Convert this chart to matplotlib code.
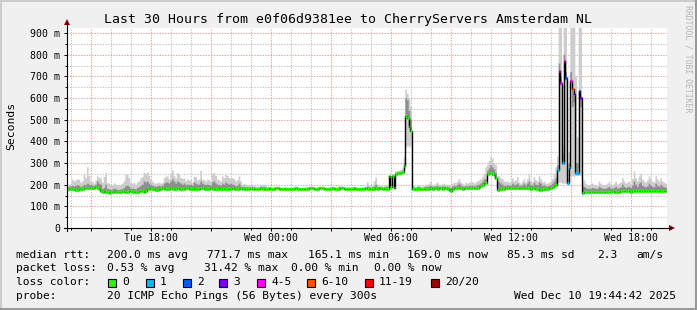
import numpy as np
import pandas as pd
import matplotlib
matplotlib.use('Agg')
import matplotlib.pyplot as plt
import matplotlib.dates as mdates
from matplotlib.ticker import MultipleLocator, FuncFormatter
from matplotlib.lines import Line2D
from matplotlib.patches import Polygon, Rectangle

plt.rcParams['font.family'] = 'DejaVu Sans Mono'

# 5 minute steps, one row per hour, starting Tue 13:48
start = '2025-12-09 13:48'

median_ms = [
    180, 180, 181, 180, 178, 176, 177, 180, 182, 181, 184, 185,
    185, 186, 184, 183, 186, 188, 184, 182, 170, 168, 169, 167,
    166, 164, 165, 168, 170, 168, 166, 165, 167, 169, 168, 166,
    168, 170, 171, 167, 165, 166, 168, 172, 170, 169, 167, 172,
    182, 183, 181, 182, 180, 176, 174, 180, 182, 183, 182, 181,
    182, 181, 183, 182, 180, 182, 184, 182, 181, 180, 182, 183,
    183, 182, 181, 182, 183, 180, 181, 182, 184, 183, 181, 182,
    181, 182, 183, 182, 181, 180, 182, 183, 182, 181, 180, 182,
    182, 180, 181, 183, 182, 180, 181, 182, 183, 181, 180, 182,
    181, 182, 183, 182, 180, 178, 181, 182, 183, 182, 181, 180,
    182, 183, 181, 180, 182, 183, 184, 182, 181, 180, 181, 182,
    180, 178, 180, 181, 182, 183, 182, 180, 178, 179, 180, 181,
    182, 183, 184, 183, 181, 180, 182, 183, 184, 183, 182, 181,
    180, 181, 182, 183, 182, 181, 180, 182, 183, 184, 182, 181,
    182, 181, 180, 182, 183, 182, 180, 178, 179, 181, 182, 183,
    182, 181, 180, 181, 182, 183, 182, 184, 183, 182, 180, 181,
    182, 238, 190, 238, 184, 250, 254, 254, 256, 258, 288, 518,
    510, 465, 448, 180, 179, 180, 178, 181, 180, 179, 178, 180,
    181, 182, 183, 182, 184, 183, 182, 183, 184, 182, 183, 184,
    182, 176, 172, 182, 183, 184, 183, 184, 183, 182, 184, 183,
    183, 184, 185, 184, 183, 184, 186, 188, 195, 200, 207, 207,
    248, 254, 252, 248, 246, 232, 176, 178, 179, 180, 182, 183,
    184, 183, 184, 185, 184, 183, 184, 185, 184, 183, 184, 185,
    184, 183, 182, 184, 183, 180, 178, 176, 177, 178, 180, 182,
    182, 183, 184, 190, 196, 200, 269, 725, 671, 300, 771, 694,
    207, 278, 679, 640, 617, 254, 254, 632, 601, 164, 166, 165,
    166, 165, 167, 166, 165, 168, 167, 166, 165, 166, 167, 168,
    167, 166, 168, 169, 168, 167, 166, 168, 169, 170, 171, 170,
    170, 169, 168, 170, 171, 172, 171, 170, 169, 170, 171, 170,
    171, 170, 169, 170, 172, 171, 170, 171, 170, 169, 170, 169,
]

# top of the smoke (slowest ping)
smoke_hi = [
    195, 200, 205, 223, 215, 220, 225, 222, 210, 215, 245, 230,
    281, 240, 214, 212, 205, 220, 238, 232, 230, 210, 235, 254,
    207, 205, 200, 198, 207, 200, 195, 198, 200, 205, 215, 245,
    245, 230, 207, 205, 207, 200, 210, 215, 230, 235, 257, 250,
    257, 240, 223, 215, 207, 205, 207, 210, 205, 207, 230, 238,
    238, 225, 250, 264, 240, 230, 254, 245, 230, 228, 230, 215,
    225, 218, 222, 210, 238, 235, 220, 225, 265, 223, 220, 215,
    223, 220, 215, 250, 254, 240, 223, 220, 215, 238, 230, 245,
    240, 230, 232, 230, 225, 215, 220, 238, 215, 200, 205, 200,
    198, 196, 196, 195, 196, 192, 190, 192, 200, 198, 200, 197,
    188, 189, 187, 186, 188, 189, 190, 188, 187, 186, 187, 188,
    186, 184, 186, 187, 188, 189, 188, 186, 184, 185, 186, 187,
    188, 189, 190, 189, 187, 186, 188, 189, 190, 189, 188, 187,
    186, 187, 188, 189, 188, 187, 186, 195, 189, 190, 188, 187,
    188, 187, 186, 188, 189, 188, 186, 184, 185, 187, 188, 190,
    212, 195, 192, 195, 215, 233, 200, 195, 192, 190, 193, 195,
    195, 245, 200, 250, 210, 262, 262, 265, 268, 275, 330, 640,
    620, 600, 560, 195, 192, 190, 200, 195, 192, 190, 195, 200,
    200, 205, 215, 200, 198, 205, 210, 200, 198, 202, 205, 200,
    200, 198, 195, 205, 210, 208, 215, 227, 210, 205, 200, 210,
    205, 210, 208, 212, 205, 210, 215, 220, 225, 235, 250, 280,
    292, 310, 331, 320, 300, 290, 238, 240, 230, 225, 215, 212,
    215, 210, 212, 230, 215, 220, 235, 210, 205, 215, 225, 210,
    225, 246, 215, 210, 233, 220, 215, 240, 225, 210, 215, 205,
    205, 210, 212, 225, 250, 280, 330, 1000, 1000, 380, 1000, 1000,
    300, 350, 1000, 1000, 1000, 700, 420, 1000, 1000, 215, 220, 205,
    195, 200, 198, 205, 200, 198, 195, 215, 205, 200, 198, 200,
    205, 212, 200, 198, 205, 215, 200, 205, 210, 230, 215, 205,
    210, 215, 205, 225, 261, 230, 215, 238, 250, 225, 215, 210,
    220, 238, 225, 215, 210, 238, 225, 215, 230, 215, 210, 205,
]

# bottom of the smoke (fastest ping)
smoke_lo = [
    176, 176, 177, 176, 174, 172, 173, 176, 178, 177, 180, 181,
    181, 182, 180, 179, 182, 184, 180, 178, 166, 164, 165, 163,
    162, 160, 161, 164, 166, 164, 162, 161, 163, 165, 164, 162,
    164, 166, 167, 163, 161, 162, 164, 168, 166, 165, 163, 168,
    178, 179, 177, 178, 176, 172, 170, 176, 178, 179, 178, 177,
    178, 177, 179, 178, 176, 178, 180, 178, 177, 176, 178, 179,
    179, 178, 177, 178, 179, 176, 177, 178, 180, 179, 177, 178,
    177, 178, 179, 178, 177, 176, 178, 179, 178, 177, 176, 178,
    178, 176, 177, 179, 178, 176, 177, 178, 179, 177, 176, 178,
    177, 178, 179, 178, 176, 174, 177, 178, 179, 178, 177, 176,
    178, 179, 177, 176, 178, 179, 180, 178, 177, 176, 177, 178,
    176, 174, 176, 177, 178, 179, 178, 176, 174, 175, 176, 177,
    178, 179, 180, 179, 177, 176, 178, 179, 180, 179, 178, 177,
    176, 177, 178, 179, 178, 177, 176, 178, 179, 180, 178, 177,
    178, 177, 176, 178, 179, 178, 176, 174, 175, 177, 178, 179,
    178, 177, 176, 177, 178, 179, 178, 180, 179, 178, 176, 177,
    178, 225, 180, 225, 180, 240, 245, 245, 248, 250, 270, 371,
    380, 372, 380, 176, 175, 176, 174, 177, 176, 175, 174, 176,
    177, 178, 179, 178, 180, 179, 178, 179, 180, 178, 179, 180,
    178, 172, 168, 178, 179, 180, 179, 180, 179, 178, 180, 179,
    179, 180, 181, 180, 179, 180, 182, 184, 190, 195, 202, 202,
    240, 246, 244, 240, 238, 222, 172, 174, 175, 176, 178, 179,
    180, 179, 180, 181, 180, 179, 180, 181, 180, 179, 180, 181,
    180, 179, 178, 180, 179, 176, 174, 172, 173, 174, 176, 178,
    178, 179, 180, 186, 190, 194, 205, 208, 210, 205, 205, 205,
    203, 240, 240, 240, 235, 240, 240, 240, 240, 160, 162, 161,
    162, 161, 163, 162, 161, 164, 163, 162, 161, 162, 163, 164,
    163, 162, 164, 165, 164, 163, 162, 164, 165, 166, 167, 166,
    166, 165, 164, 166, 167, 168, 167, 166, 165, 166, 167, 166,
    167, 166, 165, 166, 168, 167, 166, 167, 166, 165, 166, 165,
]

# edge of the dense (dark) part of the smoke
smoke_mid = [
    188, 190, 192, 195, 192, 195, 198, 195, 190, 192, 200, 198,
    205, 200, 198, 196, 195, 200, 215, 205, 200, 180, 185, 200,
    180, 178, 176, 178, 182, 180, 176, 175, 178, 180, 185, 195,
    195, 190, 182, 180, 180, 178, 185, 188, 195, 200, 215, 210,
    215, 205, 198, 195, 192, 190, 192, 195, 192, 195, 205, 210,
    210, 205, 215, 225, 215, 205, 215, 210, 205, 200, 205, 198,
    200, 198, 200, 195, 210, 205, 200, 200, 215, 205, 200, 198,
    200, 198, 196, 210, 215, 205, 200, 198, 196, 205, 200, 210,
    205, 200, 205, 200, 198, 192, 195, 205, 192, 188, 190, 188,
    188, 187, 186, 187, 188, 185, 185, 186, 188, 188, 189, 187,
    186, 187, 185, 184, 186, 187, 188, 186, 185, 184, 185, 186,
    184, 182, 184, 185, 186, 187, 186, 184, 182, 183, 184, 185,
    186, 187, 188, 187, 185, 184, 186, 187, 188, 187, 186, 185,
    184, 185, 186, 187, 186, 185, 184, 190, 187, 188, 186, 185,
    186, 185, 184, 186, 187, 186, 184, 182, 183, 185, 186, 188,
    190, 188, 186, 188, 192, 200, 190, 188, 186, 185, 188, 190,
    188, 240, 195, 242, 195, 255, 258, 258, 260, 265, 300, 600,
    590, 540, 500, 188, 186, 185, 190, 188, 186, 185, 188, 190,
    190, 192, 195, 190, 190, 192, 195, 190, 190, 191, 192, 190,
    190, 188, 185, 192, 195, 194, 198, 205, 196, 192, 190, 195,
    192, 195, 194, 196, 192, 195, 198, 200, 205, 212, 225, 225,
    262, 275, 290, 280, 270, 255, 210, 212, 205, 200, 195, 195,
    198, 195, 196, 205, 198, 200, 205, 195, 194, 198, 205, 196,
    205, 215, 198, 196, 210, 200, 198, 210, 205, 195, 198, 192,
    192, 195, 198, 205, 215, 230, 290, 760, 700, 340, 800, 720,
    230, 300, 720, 560, 580, 300, 300, 600, 560, 190, 190, 185,
    180, 182, 181, 185, 182, 181, 180, 190, 185, 182, 181, 182,
    185, 190, 182, 181, 185, 190, 182, 185, 188, 200, 190, 185,
    188, 190, 185, 195, 215, 200, 190, 205, 210, 195, 190, 188,
    192, 205, 195, 190, 188, 205, 195, 190, 200, 192, 188, 186,
]

# steps with lost pings (step index, pings lost out of 20)
loss_step = [294, 295, 296, 297, 298, 299, 300, 301, 302, 303, 304, 305, 306, 307, 308]
loss_count = [1, 4, 4, 1, 5, 2, 1, 1, 4, 6, 3, 1, 1, 2, 3]

loss_labels = ['0', '1', '2', '3', '4-5', '6-10', '11-19', '20/20']
loss_colors = ['#26ff00', '#00b8ff', '#0059ff', '#7e00ff',
               '#ff00ff', '#ff5500', '#ff0000', '#a10000']
loss_upper = [0, 1, 2, 3, 5, 10, 19, 20]

title = 'Last 30 Hours from e0f06d9381ee to CherryServers Amsterdam NL'
rtt_items = ['median rtt:', '200.0 ms avg', '771.7 ms max', '165.1 ms min',
             '169.0 ms now', '85.3 ms sd', '2.3', 'am/s']
loss_items = ['packet loss:', '0.53 % avg', '31.42 % max', '0.00 % min', '0.00 % now']
probe_items = ['probe:', '20 ICMP Echo Pings (56 Bytes) every 300s',
               'Wed Dec 10 19:44:42 2025']

W, H = 697, 310
LEG_FS = 8.1


def fpos(x, y):
    # pixel position (from top left) -> figure fraction
    return x / W, 1 - y / H


fig = plt.figure(figsize=(W / 100, H / 100), dpi=100, facecolor='#F0F0F0')
ax = fig.add_axes([67 / W, (H - 228) / H, 600 / W, 200 / H])
ax.set_facecolor('white')

times = pd.date_range(start, periods=len(median_ms) + 1, freq='5min')
edges = mdates.date2num(times.to_pydatetime())
med = np.array(median_ms + median_ms[-1:], dtype=float)
hi = np.array(smoke_hi + smoke_hi[-1:], dtype=float)
lo = np.array(smoke_lo + smoke_lo[-1:], dtype=float)
mid = np.array(smoke_mid + smoke_mid[-1:], dtype=float)

ax.fill_between(edges, lo, hi, step='post', facecolor='#CDCDCD', lw=0, zorder=2)
ax.fill_between(edges, med, mid, step='post', facecolor='#8E8E8E', lw=0, zorder=3)
ax.step(edges, med, where='post', color='black', lw=1.0, zorder=4)

loss_full = np.zeros(len(median_ms), dtype=int)
loss_full[loss_step] = loss_count
seg_colors = [loss_colors[np.searchsorted(loss_upper, n)] for n in loss_full]
ax.hlines(median_ms, edges[:-1], edges[1:], colors=seg_colors, lw=2.4,
          zorder=5, capstyle='butt')

ax.set_xlim(edges[0], edges[0] + 30 / 24)
ax.set_ylim(0, 924)

# grid
ax.xaxis.set_major_locator(mdates.HourLocator(byhour=range(0, 24, 3)))
ax.xaxis.set_minor_locator(mdates.HourLocator())
ax.xaxis.set_major_formatter(FuncFormatter(
    lambda v, p: mdates.num2date(v).strftime('%a %H:%M')
    if mdates.num2date(v).hour % 6 == 0 else ''))
ax.yaxis.set_major_locator(MultipleLocator(100))
ax.yaxis.set_minor_locator(MultipleLocator(50))
ax.yaxis.set_major_formatter(FuncFormatter(
    lambda v, p: '0' if v == 0 else '%d m' % v))

ax.set_axisbelow(True)
ax.grid(which='minor', color='#C4C4C4', lw=0.75, linestyle=(0, (1.3, 1.3)))
ax.grid(which='major', color='#E8A0A0', lw=0.75, linestyle=(0, (1.3, 1.3)))

ax.tick_params(which='major', length=2.2, width=0.7, color='black',
               labelsize=7.1, direction='out')
ax.tick_params(which='minor', length=1.2, width=0.7, color='black', direction='out')
ax.tick_params(axis='y', pad=2.5)
ax.tick_params(axis='x', pad=1.5)
for s in ax.spines.values():
    s.set_visible(False)

# axis lines with arrow heads
fig.add_artist(Line2D([67 / W, 67 / W], [1 - 231 / H, 1 - 23 / H],
                      color='black', lw=0.8))
fig.add_artist(Line2D([64 / W, 671 / W], [1 - 228 / H, 1 - 228 / H],
                      color='black', lw=0.8))
fig.add_artist(Polygon([fpos(64, 25), fpos(70, 25), fpos(67, 19)],
                       closed=True, color='#8B0000', lw=0))
fig.add_artist(Polygon([fpos(669, 225), fpos(669, 231), fpos(675, 228)],
                       closed=True, color='#8B0000', lw=0))

# frame
fig.add_artist(Line2D([0, 1], [1 - 1 / H, 1 - 1 / H], color='#CBCBCB', lw=1.4))
fig.add_artist(Line2D([1 / W, 1 / W], [0, 1], color='#CBCBCB', lw=1.4))
fig.add_artist(Line2D([0, 1], [1.5 / H, 1.5 / H], color='#999999', lw=2.2))
fig.add_artist(Line2D([1 - 1.5 / W, 1 - 1.5 / W], [0, 1], color='#999999', lw=2.2))

x, y = fpos(347.5, 19)
fig.text(x, y, title, ha='center', va='center', fontsize=9.5)
x, y = fpos(11, 126)
fig.text(x, y, 'Seconds', rotation=90, ha='center', va='center', fontsize=8.2)
x, y = fpos(688, 59)
fig.text(x, y, 'RRDTOOL / TOBI OETIKER', rotation=270, ha='center', va='center',
         fontsize=5.9, color='#B4B4B4')

# legend
lx = [16, 107, 207, 308, 407, 507, 597, 636]
for s, xx in zip(rtt_items, lx):
    x, y = fpos(xx, 255)
    fig.text(x, y, s, ha='left', va='center', fontsize=LEG_FS)
lx = [16, 107, 204, 291, 374]
for s, xx in zip(loss_items, lx):
    x, y = fpos(xx, 268)
    fig.text(x, y, s, ha='left', va='center', fontsize=LEG_FS)
x, y = fpos(16, 282)
fig.text(x, y, 'loss color:', ha='left', va='center', fontsize=LEG_FS)
box_x = [108, 146, 183, 219, 257, 307, 365, 431]
for lab, col, bx in zip(loss_labels, loss_colors, box_x):
    x0, y0 = fpos(bx, 286.5)
    fig.add_artist(Rectangle((x0, y0), 8 / W, 8 / H, facecolor=col,
                             edgecolor='black', lw=0.8))
    x, y = fpos(bx + 14, 282)
    fig.text(x, y, lab, ha='left', va='center', fontsize=LEG_FS)
lx = [16, 107, 514]
for s, xx in zip(probe_items, lx):
    x, y = fpos(xx, 296)
    fig.text(x, y, s, ha='left', va='center', fontsize=LEG_FS)

fig.savefig('out.png', dpi=100, facecolor=fig.get_facecolor())
